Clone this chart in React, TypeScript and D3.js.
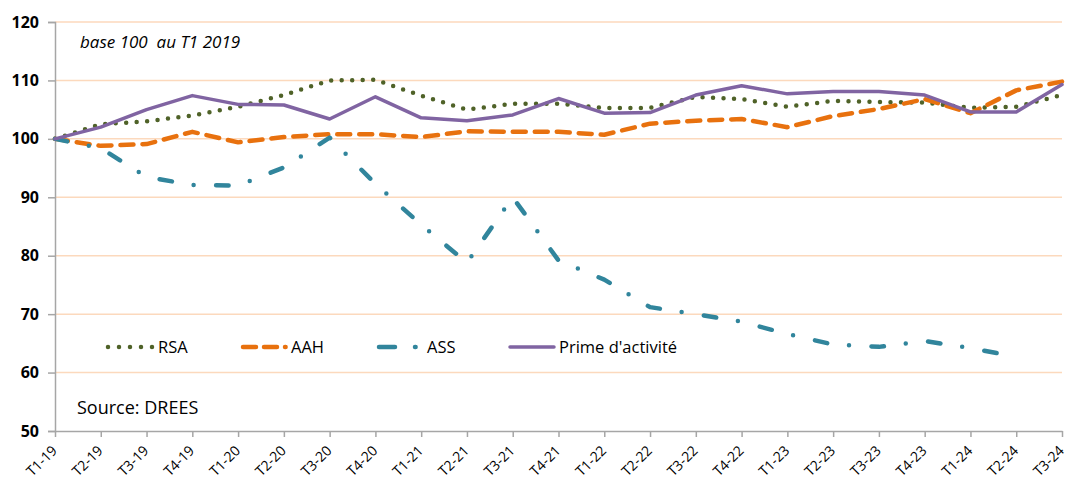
import React, { useEffect, useRef } from 'react';
import * as d3 from 'd3';

const quarters = [
  'T1-19', 'T2-19', 'T3-19', 'T4-19', 'T1-20', 'T2-20', 'T3-20', 'T4-20',
  'T1-21', 'T2-21', 'T3-21', 'T4-21', 'T1-22', 'T2-22', 'T3-22', 'T4-22',
  'T1-23', 'T2-23', 'T3-23', 'T4-23', 'T1-24', 'T2-24', 'T3-24',
];

const rsa = [100, 102.5, 103, 104, 105.5, 107.5, 110, 110.1, 107.4, 105, 106, 106, 105.3, 105.3, 107.2, 106.8, 105.5, 106.5, 106.3, 106.2, 105.3, 105.5, 107.5];
const aah = [100, 98.8, 99.1, 101.2, 99.4, 100.3, 100.8, 100.8, 100.3, 101.3, 101.2, 101.2, 100.7, 102.6, 103.1, 103.4, 102, 103.9, 105.1, 106.8, 104.4, 108.3, 109.8];
const ass: (number | null)[] = [100, 98.4, 93.5, 92.1, 92, 95.1, 100.2, 92.3, 85.3, 78.8, 90, 79.2, 75.9, 71.2, 70, 68.7, 66.6, 64.8, 64.4, 65.4, 64.2, 62.7, null];
const prime = [100, 102, 105, 107.4, 105.9, 105.8, 103.4, 107.2, 103.6, 103.1, 104.1, 106.9, 104.4, 104.5, 107.5, 109.1, 107.7, 108.1, 108.1, 107.5, 104.6, 104.6, 109.3];

const yTicks = [50, 60, 70, 80, 90, 100, 110, 120];

const seriesNames = ['RSA', 'AAH', 'ASS', "Prime d'activité"];

const W = 1067;
const H = 481;

export default function App() {
  const ref = useRef<SVGSVGElement>(null);

  useEffect(() => {
    const svg = d3.select(ref.current);
    svg.selectAll('*').remove();

    const left = 55, right = 1062, top = 22, bottom = 431;
    const x = d3.scalePoint<string>().domain(quarters).range([left, right]);
    const y = d3.scaleLinear().domain([50, 120]).range([bottom, top]);

    const font = '"Open Sans", "Noto Sans", sans-serif';

    // gridlines
    svg.append('g')
      .selectAll('line')
      .data(yTicks.filter(d => d > 50))
      .join('line')
      .attr('x1', left)
      .attr('x2', right)
      .attr('y1', d => y(d))
      .attr('y2', d => y(d))
      .attr('stroke', '#fcd9bd')
      .attr('stroke-width', 1.5);

    // y axis
    const yAxis = svg.append('g')
      .attr('transform', `translate(${left},0)`)
      .call(d3.axisLeft(y).tickValues(yTicks).tickSize(7).tickPadding(9));
    yAxis.select('.domain').attr('stroke', '#a6a6a6').attr('stroke-width', 1.5);
    yAxis.selectAll('.tick line').attr('stroke', '#a6a6a6').attr('stroke-width', 1.5);
    yAxis.selectAll('.tick text')
      .attr('font-family', font)
      .attr('font-size', 16)
      .attr('font-weight', 'bold')
      .attr('fill', '#000');

    // x axis
    const xAxis = svg.append('g')
      .attr('transform', `translate(0,${bottom})`)
      .call(d3.axisBottom(x).tickSize(6).tickSizeOuter(0));
    xAxis.select('.domain').attr('stroke', '#a6a6a6').attr('stroke-width', 1.5);
    xAxis.selectAll('.tick line').attr('stroke', '#a6a6a6').attr('stroke-width', 1.5);
    xAxis.selectAll('.tick text')
      .attr('font-family', font)
      .attr('font-size', 14)
      .attr('fill', '#000')
      .attr('text-anchor', 'end')
      .attr('transform', 'translate(-1,17) rotate(-45)')
      .attr('x', 0)
      .attr('y', 0)
      .attr('dy', '0.35em');

    const styles = [
      { data: rsa, color: '#4f6228', dash: '0 10.5', width: 4.5 },
      { data: aah, color: '#e8710e', dash: '13 9', width: 4.5 },
      { data: ass, color: '#31859c', dash: '12.5 22 0 22.5', width: 4.5 },
      { data: prime, color: '#8064a2', dash: null, width: 3.5 },
    ];

    const line = d3.line<number | null>()
      .defined(d => d != null)
      .x((_, i) => x(quarters[i]) as number)
      .y(d => y(d as number));

    styles.forEach(s => {
      svg.append('path')
        .datum(s.data as (number | null)[])
        .attr('d', line)
        .attr('fill', 'none')
        .attr('stroke', s.color)
        .attr('stroke-width', s.width)
        .attr('stroke-linecap', 'round')
        .attr('stroke-linejoin', 'round')
        .attr('stroke-dasharray', s.dash);
    });

    // legend
    const legendY = 347;
    const legendX = [108, 243, 379, 510];
    const legendLen = [44.5, 42.6, 36.6, 44];
    const legendDash = ['0 11', '13 8', '16 20', null];
    const textX = [158, 291, 427, 559];
    styles.forEach((s, i) => {
      const g = svg.append('g');
      g.append('line')
        .attr('x1', legendX[i])
        .attr('x2', legendX[i] + legendLen[i])
        .attr('y1', legendY)
        .attr('y2', legendY)
        .attr('stroke', s.color)
        .attr('stroke-width', s.width)
        .attr('stroke-linecap', 'round')
        .attr('stroke-dasharray', legendDash[i]);
      g.append('text')
        .attr('x', textX[i])
        .attr('y', legendY + 6)
        .attr('font-family', font)
        .attr('font-size', 16.5)
        .attr('fill', '#000')
        .text(seriesNames[i]);
    });

    svg.append('text')
      .attr('x', 80)
      .attr('y', 48)
      .attr('font-family', font)
      .attr('font-size', 17)
      .attr('font-style', 'italic')
      .attr('fill', '#000')
      .attr('xml:space', 'preserve')
      .text('base 100  au T1 2019');

    svg.append('text')
      .attr('x', 77)
      .attr('y', 414)
      .attr('font-family', font)
      .attr('font-size', 18)
      .attr('fill', '#000')
      .text('Source: DREES');
  }, []);

  return (
    <svg
      ref={ref}
      width={W}
      height={H}
      style={{ position: 'absolute', left: 0, top: 0, background: '#fff' }}
    />
  );
}
